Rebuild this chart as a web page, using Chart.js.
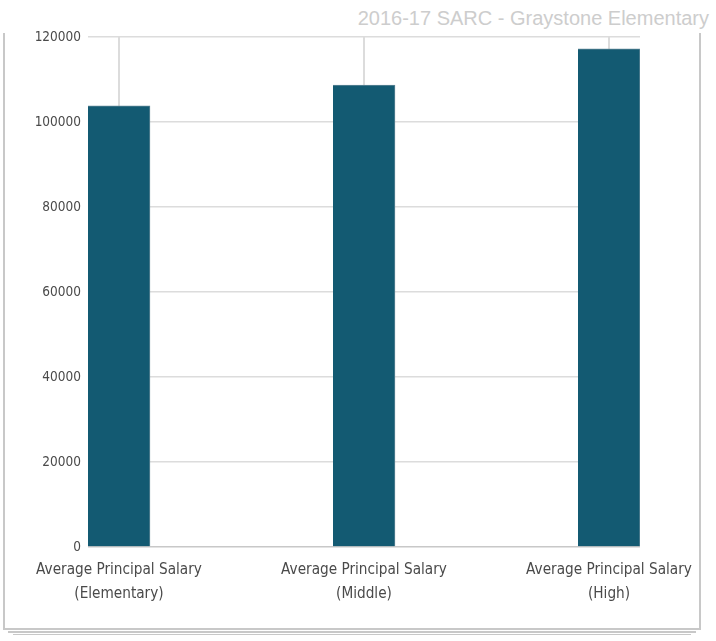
<!DOCTYPE html>
<html>
<head>
<meta charset="utf-8">
<script src="https://cdn.jsdelivr.net/npm/chart.js@4/dist/chart.umd.min.js"></script>
<style>
  html, body { margin: 0; padding: 0; background: #fff; }
  #wrap { position: relative; width: 716px; height: 641px; overflow: hidden; }
  .ln { position: absolute; background: #c8c8c8; }
  #title {
    position: absolute; right: 7px; top: 8px;
    font: 20px "Liberation Sans", Arial, sans-serif; line-height: 21px;
    color: #cdcdcd; white-space: nowrap;
  }
  #myChart { position: absolute; left: 0; top: 0; }
</style>
</head>
<body>
<div id="wrap">
  <!-- frame with the stacked paper look at the bottom -->
  <div class="ln" style="left:3px; top:33px; width:2px; height:597px;"></div>
  <div class="ln" style="left:699px; top:33px; width:2px; height:597px;"></div>
  <div class="ln" style="left:3px; top:628px; width:698px; height:2px;"></div>
  <div class="ln" style="left:8px; top:631px; width:688px; height:1.5px;"></div>
  <div class="ln" style="left:13px; top:633.5px; width:678px; height:1.5px;"></div>
  <div id="title">2016-17 SARC - Graystone Elementary</div>
  <canvas id="myChart" width="716" height="641"></canvas>
</div>
<script>
// categories (two lines each) and values
const categories = [
  ["Average Principal Salary", "(Elementary)"],
  ["Average Principal Salary", "(Middle)"],
  ["Average Principal Salary", "(High)"]
];
const salaries = [103800, 108700, 117200];
const yTicks = [0, 20000, 40000, 60000, 80000, 100000, 120000];

const positions = categories.map((c, i) => i);
const points = positions.map(i => ({x: i, y: salaries[i]}));

const myChart = document.getElementById("myChart");

let barChart = new Chart(myChart, {
  type: 'bar',
  data: {
    datasets: [{
      data: points,
      backgroundColor: '#135a72',
      borderColor: '#5f8797',
      borderWidth: {top: 1, right: 1, left: 0, bottom: 0},
      barThickness: 62
    }]
  },
  options: {
    responsive: false,
    animation: false,
    layout: { padding: { top: 37, right: 76, left: 0, bottom: 0 } },
    plugins: {
      legend: { display: false },
      tooltip: { enabled: false }
    },
    scales: {
      x: {
        type: 'linear',
        offset: false,
        min: -0.1265,
        max: positions.length - 1 + 0.1265,
        afterBuildTicks: s => { s.ticks = positions.map(v => ({value: v})); },
        afterFit: s => { s.height = 94; },
        border: { display: false },
        grid: { color: '#dcdcdc', lineWidth: 2, drawTicks: false, offset: false },
        ticks: {
          autoSkip: false,
          maxRotation: 0,
          padding: 11,
          color: '#4a4a4a',
          font: { family: '"DejaVu Sans Condensed", "DejaVu Sans", sans-serif', size: 15.2, lineHeight: 1.58 },
          callback: v => categories[v]
        }
      },
      y: {
        min: yTicks[0],
        max: yTicks[yTicks.length - 1],
        afterBuildTicks: s => { s.ticks = yTicks.map(v => ({value: v})); },
        afterFit: s => { s.width = 88; },
        border: { display: false },
        grid: {
          color: c => c.tick && c.tick.value === 0 ? '#c8c8c8' : '#dcdcdc',
          lineWidth: 1.5,
          drawTicks: false
        },
        ticks: {
          padding: 7,
          color: '#4a4a4a',
          font: { family: '"DejaVu Sans Condensed", "DejaVu Sans", sans-serif', size: 13.5 },
          callback: v => String(v)
        }
      }
    }
  }
});
</script>
</body>
</html>
